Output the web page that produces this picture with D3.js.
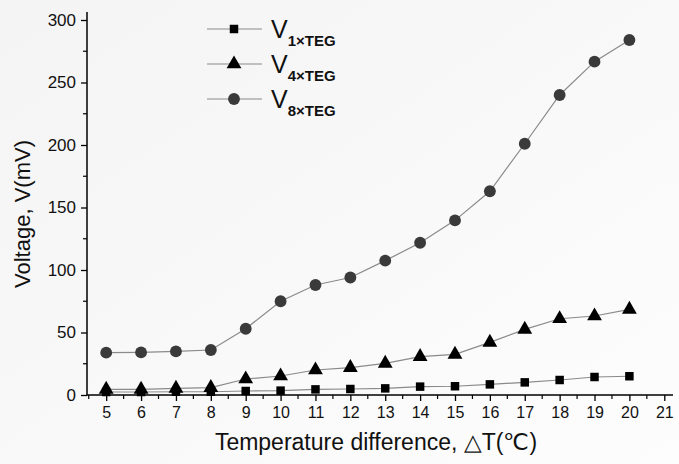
<!DOCTYPE html>
<html><head><meta charset="utf-8">
<script src="https://cdn.jsdelivr.net/npm/d3@7"></script>
<style>body{margin:0;background:#fff}svg{display:block}text{font-family:"Liberation Sans",Arial,sans-serif;fill:#111}</style>
</head><body><svg id="c" width="679" height="464"></svg>
<script>
const xValues = [5,6,7,8,9,10,11,12,13,14,15,16,17,18,19,20];
const v1 = [2.4,2.4,2.6,2.6,3.2,3.5,4.5,4.8,5.3,6.7,7.0,8.5,10.1,12.0,14.4,15.0];
const v4 = [4.5,4.5,5.3,5.9,12.8,15.2,20.0,21.9,25.3,30.7,32.5,42.1,52.5,61.0,63.2,68.5];
const v8 = [33.9,34.1,34.9,36.0,53.0,75.0,88.0,94.0,107.5,121.8,139.7,163.0,201.0,240.0,266.7,284.0];
const xTicks = [5,6,7,8,9,10,11,12,13,14,15,16,17,18,19,20,21];
const yTicks = [0,50,100,150,200,250,300];
const seriesNames = ["1×TEG","4×TEG","8×TEG"];

const svg = d3.select("#c");
const x = d3.scaleLinear().domain([4.45,21.25]).range([87,673]);
const y = d3.scaleLinear().domain([0,300]).range([395,20]);

const defs = svg.append("defs");
const g0 = defs.append("linearGradient").attr("id","bg").attr("x1",0).attr("y1",0).attr("x2",1).attr("y2",1);
g0.append("stop").attr("offset",0).attr("stop-color","#f4f4f4");
g0.append("stop").attr("offset",1).attr("stop-color","#fdfdfd");
svg.append("rect").attr("width",679).attr("height",464).attr("fill","url(#bg)");

const xAxis = d3.axisBottom(x).tickValues(xTicks).tickSize(6).tickPadding(6).tickFormat(d3.format("d"));
const gx = svg.append("g").attr("transform","translate(0,395)").call(xAxis);
const yAxis = d3.axisLeft(y).tickValues(yTicks).tickSize(6).tickPadding(5);
const gy = svg.append("g").attr("transform","translate(87,0)").call(yAxis);
[gx,gy].forEach(g=>{
  g.select(".domain").attr("stroke","#000").attr("stroke-width",1.5);
  g.selectAll(".tick line").attr("stroke","#000").attr("stroke-width",1.3);
  g.selectAll(".tick text").attr("fill","#111");
});
gx.selectAll(".tick text").style("font-size","16px");
gy.selectAll(".tick text").style("font-size","17px");
gx.select(".domain").attr("d","M87,0H673");
gy.select(".domain").attr("d","M0,395V12");
const xMinor = xTicks.slice(0,-1).map(d=>d+0.5).concat([4.5]);
svg.append("g").selectAll("line").data(xMinor).join("line")
  .attr("x1",d=>x(d)).attr("x2",d=>x(d)).attr("y1",395).attr("y2",399)
  .attr("stroke","#000").attr("stroke-width",1.2);
const yMinor = [25,75,125,175,225,275];
svg.append("g").selectAll("line").data(yMinor).join("line")
  .attr("x1",83).attr("x2",87).attr("y1",d=>y(d)).attr("y2",d=>y(d))
  .attr("stroke","#000").attr("stroke-width",1.2);

svg.append("text").attr("x",376).attr("y",450).attr("text-anchor","middle")
  .style("font-size","23px").text("Temperature difference, △T(℃)");
svg.append("text").attr("transform","translate(30,214) rotate(-90)").attr("text-anchor","middle")
  .style("font-size","22px").text("Voltage, V(mV)");

const line = d3.line().x((d,i)=>x(xValues[i])).y(d=>y(d));
const data = [v1,v4,v8];
const shapes = [d3.symbolSquare, d3.symbolTriangle, d3.symbolCircle];
const sizes = [72, 95, 110];
const fills = ["#000","#000","#3a3a3a"];
data.forEach((vals,k)=>{
  svg.append("path").attr("d",line(vals)).attr("fill","none").attr("stroke","#8a8a8a").attr("stroke-width",1.2);
  svg.append("g").selectAll("path").data(vals).join("path")
    .attr("transform",(d,i)=>`translate(${x(xValues[i])},${y(d)})`)
    .attr("d",d3.symbol().type(shapes[k]).size(sizes[k])).attr("fill",fills[k]);
});

const legY = [29,64,99];
seriesNames.forEach((name,k)=>{
  const ly = legY[k];
  svg.append("line").attr("x1",207).attr("x2",262).attr("y1",ly).attr("y2",ly).attr("stroke","#8a8a8a").attr("stroke-width",1.2);
  svg.append("path").attr("transform",`translate(234,${ly})`).attr("d",d3.symbol().type(shapes[k]).size(sizes[k])).attr("fill",fills[k]);
  const t = svg.append("text").attr("x",271).attr("y",ly+9).style("font-size","25px");
  t.append("tspan").text("V");
  t.append("tspan").attr("dy",8).style("font-size","15px").style("font-weight","bold").text(name);
});
</script></body></html>
